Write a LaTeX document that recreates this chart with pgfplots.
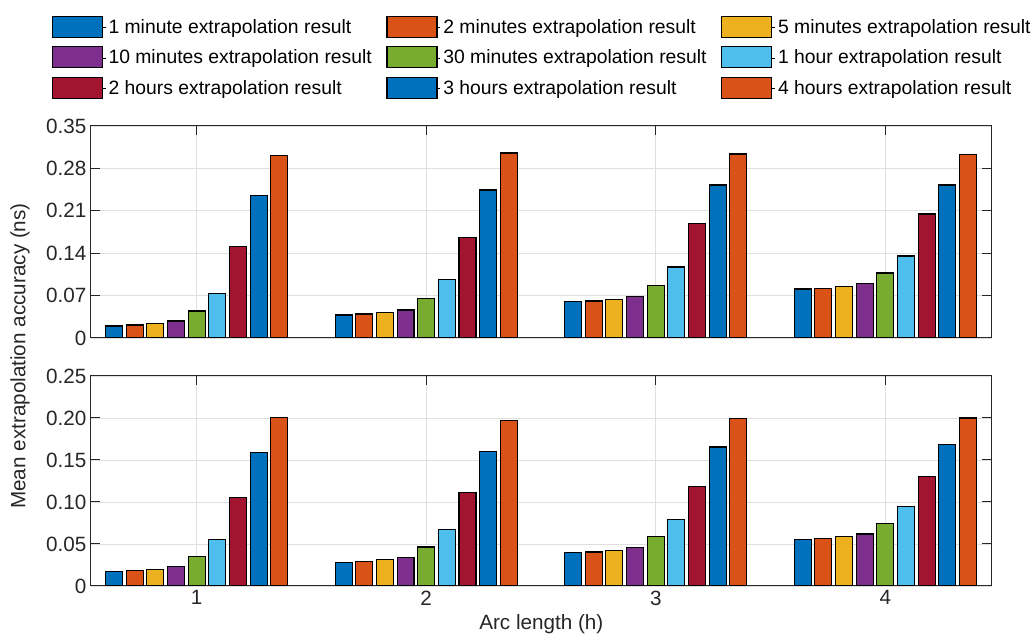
\documentclass[border=0pt]{standalone}
\usepackage{fontspec}
\setmainfont{Liberation Sans}
\usepackage{pgfplots}
\usepackage{pgfplotstable}
\pgfplotsset{compat=1.18}
\definecolor{c1}{RGB}{0,114,189}
\definecolor{c2}{RGB}{217,83,25}
\definecolor{c3}{RGB}{237,177,32}
\definecolor{c4}{RGB}{126,47,142}
\definecolor{c5}{RGB}{119,172,48}
\definecolor{c6}{RGB}{77,190,238}
\definecolor{c7}{RGB}{162,20,47}
\definecolor{axgray}{RGB}{38,38,38}
\definecolor{gridgray}{RGB}{223,223,223}

\pgfplotstableread{
x s1 s2 s3 s4 s5 s6 s7 s8 s9
1 0.0198 0.0214 0.0242 0.0281 0.0446 0.0737 0.1513 0.2350 0.3015
2 0.0380 0.0396 0.0423 0.0462 0.0649 0.0958 0.1656 0.2443 0.3054
3 0.0599 0.0611 0.0638 0.0682 0.0869 0.1172 0.1892 0.2526 0.3038
4 0.0809 0.0819 0.0852 0.0897 0.1073 0.1354 0.2047 0.2526 0.3026
}\toptable

\pgfplotstableread{
x s1 s2 s3 s4 s5 s6 s7 s8 s9
1 0.0171 0.0179 0.0198 0.0230 0.0353 0.0556 0.1056 0.1587 0.2008
2 0.0282 0.0290 0.0310 0.0341 0.0464 0.0667 0.1111 0.1603 0.1972
3 0.0397 0.0405 0.0425 0.0460 0.0587 0.0790 0.1179 0.1655 0.1992
4 0.0556 0.0563 0.0587 0.0619 0.0746 0.0948 0.1302 0.1686 0.2000
}\bottable

\pgfplotsset{
  layers/mylayers/.define layer set={axis background,axis grid,main,axis ticks,axis lines,axis tick labels,axis descriptions,axis foreground}{},
  mybar/.style={ybar, bar width=0.074, draw=black, line width=0.8pt, bar shift=#1},
  myleg/.style={legend image code/.code={\draw[fill=#1,draw=black,line width=0.8pt] (0pt,-7.5pt) rectangle (37.5pt,8.3pt); \path (37.5pt,0pt) -- (40pt,0pt);}},
  myax/.style={
    scale only axis, width=675.5pt,
    xmin=0.54, xmax=4.463, xtick={1,2,3,4},
    grid=major, major grid style={gridgray, line width=0.6pt},
    axis line style={axgray, line width=0.75pt},
    tick style={axgray, line width=0.75pt},
    tick align=inside, major tick length=7pt,
    xtick pos=both, ytick pos=both,
    tick label style={font=\fontsize{15.5}{18}\selectfont, text=axgray},
    /pgf/number format/assume math mode=true,
    set layers=mylayers,
  },
}

\begin{document}
\begin{tikzpicture}
% top axis
\begin{axis}[myax, at={(0pt,186pt)}, anchor=south west, height=159pt,
  ymin=0, ymax=0.35, ytick={0,0.07,0.14,0.21,0.28,0.35},
  yticklabels={0,0.07,0.14,0.21,0.28,0.35},
  xticklabels={},
  legend columns=3, legend cell align=left,
  legend style={at={(-0.0436,1.520)}, anchor=north west, draw=none, fill=none,
    inner sep=0pt, outer sep=0pt, row sep=6.2pt,
    font=\fontsize{14.5}{17}\selectfont, text=black,
    /tikz/every even column/.append style={column sep=9pt}},
]
\addlegendimage{myleg=c1}\addlegendentry{1 minute extrapolation result}
\addlegendimage{myleg=c2}\addlegendentry{2 minutes extrapolation result}
\addlegendimage{myleg=c3}\addlegendentry{5 minutes extrapolation result}
\addlegendimage{myleg=c4}\addlegendentry{10 minutes extrapolation result}
\addlegendimage{myleg=c5}\addlegendentry{30 minutes extrapolation result}
\addlegendimage{myleg=c6}\addlegendentry{1 hour extrapolation result}
\addlegendimage{myleg=c7}\addlegendentry{2 hours extrapolation result}
\addlegendimage{myleg=c1}\addlegendentry{3 hours extrapolation result}
\addlegendimage{myleg=c2}\addlegendentry{4 hours extrapolation result}
\addplot[mybar=-0.36, fill=c1, forget plot] table[x=x,y=s1]{\toptable};
\addplot[mybar=-0.27, fill=c2, forget plot] table[x=x,y=s2]{\toptable};
\addplot[mybar=-0.18, fill=c3, forget plot] table[x=x,y=s3]{\toptable};
\addplot[mybar=-0.09, fill=c4, forget plot] table[x=x,y=s4]{\toptable};
\addplot[mybar=0, fill=c5, forget plot] table[x=x,y=s5]{\toptable};
\addplot[mybar=0.09, fill=c6, forget plot] table[x=x,y=s6]{\toptable};
\addplot[mybar=0.18, fill=c7, forget plot] table[x=x,y=s7]{\toptable};
\addplot[mybar=0.27, fill=c1, forget plot] table[x=x,y=s8]{\toptable};
\addplot[mybar=0.36, fill=c2, forget plot] table[x=x,y=s9]{\toptable};
\end{axis}

% bottom axis
\begin{axis}[myax, at={(0pt,0pt)}, anchor=south west, height=157.5pt,
  ymin=0, ymax=0.25, ytick={0,0.05,0.1,0.15,0.2,0.25},
  yticklabels={0,0.05,0.10,0.15,0.20,0.25},
  xticklabels={1,2,3,4},
  xlabel={Arc length (h)},
  ylabel={Mean extrapolation accuracy (ns)},
  every axis x label/.style={at={(axis description cs:0.5,-0.181)}, anchor=center,
    font=\fontsize{15.5}{18}\selectfont, text=axgray},
  every axis y label/.style={at={(axis description cs:-0.0788,1.095)}, rotate=90, anchor=center,
    font=\fontsize{15.5}{18}\selectfont, text=axgray},
]
\addplot[mybar=-0.36, fill=c1] table[x=x,y=s1]{\bottable};
\addplot[mybar=-0.27, fill=c2] table[x=x,y=s2]{\bottable};
\addplot[mybar=-0.18, fill=c3] table[x=x,y=s3]{\bottable};
\addplot[mybar=-0.09, fill=c4] table[x=x,y=s4]{\bottable};
\addplot[mybar=0, fill=c5] table[x=x,y=s5]{\bottable};
\addplot[mybar=0.09, fill=c6] table[x=x,y=s6]{\bottable};
\addplot[mybar=0.18, fill=c7] table[x=x,y=s7]{\bottable};
\addplot[mybar=0.27, fill=c1] table[x=x,y=s8]{\bottable};
\addplot[mybar=0.36, fill=c2] table[x=x,y=s9]{\bottable};
\end{axis}
\pgfresetboundingbox
\path[use as bounding box] (-68.25pt,-36pt) rectangle (705.75pt,439.5pt);
\end{tikzpicture}
\end{document}
